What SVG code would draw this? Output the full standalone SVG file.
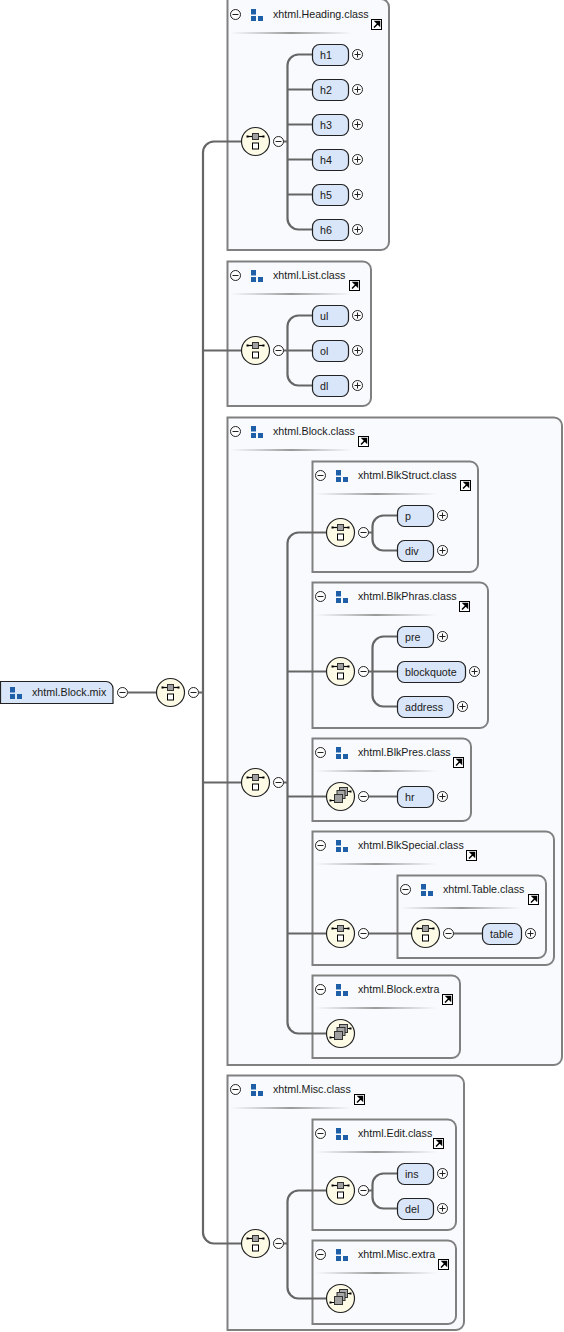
<svg xmlns="http://www.w3.org/2000/svg" width="564" height="1332" viewBox="0 0 564 1332">
<style>
text{font-family:"Liberation Sans",Arial,sans-serif;font-size:10.7px;fill:#1a1a1a}
.box{fill:#f8fafe;stroke:#808080;stroke-width:2}
.el{fill:#d9e5f8;stroke:#222;stroke-width:1.2}
.wire{fill:none;stroke:#666;stroke-width:2.2}
</style>
<defs>
<linearGradient id="fade"><stop offset="0" stop-color="#aaa" stop-opacity="0"/><stop offset=".5" stop-color="#999"/><stop offset="1" stop-color="#aaa" stop-opacity="0"/></linearGradient>
<g id="minus"><circle r="5" fill="#fff" stroke="#222"/><path d="M-3 0H3" stroke="#222"/></g>
<g id="plus"><circle r="5" fill="#fff" stroke="#222"/><path d="M-3 0H3M0 -3V3" stroke="#222"/></g>
<g id="icon"><path d="M0 0h5v5.500h-5zM0 7h5v5h-5zM7 7h5v5h-5z" fill="#1f5fa8"/></g>
<g id="ext"><rect x="-5" y="-5" width="10" height="10" fill="#fff" stroke="#000"/><path d="M-2.500 3L1 -.5M-1 -3H3V1Z" stroke="#000" stroke-width="1.500" fill="#000"/></g>
<g id="seq"><circle r="14" fill="#fdfbe6" stroke="#222" stroke-width="1.200"/><path d="M-8 -5H8" stroke="#000" stroke-width="1.200"/><path d="M-8 -6V-4M8 -6V-4" stroke="#000" stroke-width="2"/><rect x="-3" y="-8" width="6" height="6" fill="#a0a0a0" stroke="#333"/><rect x="-3" y="1.500" width="6" height="6" fill="#fff" stroke="#000"/></g>
<g id="multi"><circle r="14" fill="#fdfbe6" stroke="#222" stroke-width="1.200"/><path d="M-10 4H-5M6 -5H10" stroke="#000" stroke-width="1.200"/><path d="M-10 3V5M10 -6V-4" stroke="#000" stroke-width="2"/><rect x="-1" y="-9" width="8" height="8" fill="#a8a8a8" stroke="#333"/><rect x="-3.500" y="-6" width="8" height="8" fill="#a8a8a8" stroke="#333"/><rect x="-6" y="-2" width="8" height="8" fill="#a0a0a0" stroke="#333"/></g>
<rect id="sep" width="122" height="2" fill="url(#fade)"/>
</defs>

<g id="box-heading"><path class="box" d="M227.500 -1H381a8 8 0 0 1 8 8V242a8 8 0 0 1-8 8H227.500Z"/><use href="#minus" x="235.500" y="14.500"/><use href="#icon" x="251" y="9"/><text x="273" y="18">xhtml.Heading.class</text><use href="#ext" x="376.500" y="24.500"/><use href="#sep" x="230" y="32"/></g>
<g id="box-list"><path class="box" d="M227.500 261.500H363a8 8 0 0 1 8 8V398a8 8 0 0 1-8 8H227.500Z"/><use href="#minus" x="235.500" y="275.500"/><use href="#icon" x="251" y="270"/><text x="273" y="279">xhtml.List.class</text><use href="#ext" x="354.500" y="285.500"/><use href="#sep" x="230" y="293"/></g>
<g id="box-block"><path class="box" d="M227.500 417.500H554a8 8 0 0 1 8 8V1057a8 8 0 0 1-8 8H227.500Z"/><use href="#minus" x="235.500" y="431.500"/><use href="#icon" x="251" y="426"/><text x="273" y="435">xhtml.Block.class</text><use href="#ext" x="363.500" y="441.500"/><use href="#sep" x="230" y="449"/></g>
<g id="box-blkstruct"><path class="box" d="M312.500 461.500H470a8 8 0 0 1 8 8V564a8 8 0 0 1-8 8H312.500Z"/><use href="#minus" x="320.500" y="475.500"/><use href="#icon" x="336" y="470"/><text x="358" y="479">xhtml.BlkStruct.class</text><use href="#ext" x="465.500" y="485.500"/><use href="#sep" x="315" y="493"/></g>
<g id="box-blkphras"><path class="box" d="M312.500 582.500H480a8 8 0 0 1 8 8V720a8 8 0 0 1-8 8H312.500Z"/><use href="#minus" x="320.500" y="596.500"/><use href="#icon" x="336" y="591"/><text x="358" y="600">xhtml.BlkPhras.class</text><use href="#ext" x="464.500" y="606.500"/><use href="#sep" x="315" y="614"/></g>
<g id="box-blkpres"><path class="box" d="M312.500 738.500H463a8 8 0 0 1 8 8V813a8 8 0 0 1-8 8H312.500Z"/><use href="#minus" x="320.500" y="752.500"/><use href="#icon" x="336" y="747"/><text x="358" y="756">xhtml.BlkPres.class</text><use href="#ext" x="458.500" y="762.500"/><use href="#sep" x="315" y="770"/></g>
<g id="box-blkspecial"><path class="box" d="M312.500 831.500H546a8 8 0 0 1 8 8V957a8 8 0 0 1-8 8H312.500Z"/><use href="#minus" x="320.500" y="845.500"/><use href="#icon" x="336" y="840"/><text x="358" y="849">xhtml.BlkSpecial.class</text><use href="#ext" x="471.500" y="855.500"/><use href="#sep" x="315" y="863"/></g>
<g id="box-table"><path class="box" d="M397.500 875.500H538a8 8 0 0 1 8 8V950a8 8 0 0 1-8 8H397.500Z"/><use href="#minus" x="405.500" y="889.500"/><use href="#icon" x="421" y="884"/><text x="443" y="893">xhtml.Table.class</text><use href="#ext" x="533.500" y="899.500"/><use href="#sep" x="400" y="907"/></g>
<g id="box-blockextra"><path class="box" d="M312.500 975.500H452a8 8 0 0 1 8 8V1050a8 8 0 0 1-8 8H312.500Z"/><use href="#minus" x="320.500" y="989.500"/><use href="#icon" x="336" y="984"/><text x="358" y="993">xhtml.Block.extra</text><use href="#ext" x="447.500" y="999.500"/><use href="#sep" x="315" y="1007"/></g>
<g id="box-misc"><path class="box" d="M227.500 1075.500H456a8 8 0 0 1 8 8V1322a8 8 0 0 1-8 8H227.500Z"/><use href="#minus" x="235.500" y="1089.500"/><use href="#icon" x="251" y="1084"/><text x="273" y="1093">xhtml.Misc.class</text><use href="#ext" x="359.500" y="1099.500"/><use href="#sep" x="230" y="1107"/></g>
<g id="box-edit"><path class="box" d="M312.500 1119.500H448a8 8 0 0 1 8 8V1222a8 8 0 0 1-8 8H312.500Z"/><use href="#minus" x="320.500" y="1133.500"/><use href="#icon" x="336" y="1128"/><text x="358" y="1137">xhtml.Edit.class</text><use href="#ext" x="438.500" y="1143.500"/><use href="#sep" x="315" y="1151"/></g>
<g id="box-miscextra"><path class="box" d="M312.500 1240.500H448a8 8 0 0 1 8 8V1316a8 8 0 0 1-8 8H312.500Z"/><use href="#minus" x="320.500" y="1254.500"/><use href="#icon" x="336" y="1249"/><text x="358" y="1258">xhtml.Misc.extra</text><use href="#ext" x="443.500" y="1264.500"/><use href="#sep" x="315" y="1272"/></g>

<g id="connectors">
<path class="wire" d="M128 692.500H156M199 692.500H203M241 141.500H214a11 11 0 0 0-11 11V1232.500a11 11 0 0 0 11 11H241M203 350.500H241M203 782.500H241"/>
<path class="wire" d="M283 141.500H287.500M312 54.500H298.500a11 11 0 0 0-11 11V218.500a11 11 0 0 0 11 11H312M287.500 89.500H312M287.500 124.500H312M287.500 159.500H312M287.500 194.500H312"/>
<path class="wire" d="M283 350.500H287.500M312 315.500H298.500a11 11 0 0 0-11 11V374.500a11 11 0 0 0 11 11H312M287.500 350.500H312"/>
<path class="wire" d="M283 782.500H287.500M326 532.500H298.500a11 11 0 0 0-11 11V1022.500a11 11 0 0 0 11 11H326M287.500 671.500H326M287.500 796.500H326M287.500 933.500H326"/>
<path class="wire" d="M368 532.500H372.500M397 515.500H383.500a11 11 0 0 0-11 11V539.500a11 11 0 0 0 11 11H397"/>
<path class="wire" d="M368 671.500H372.500M397 636.500H383.500a11 11 0 0 0-11 11V695.500a11 11 0 0 0 11 11H397M372.500 671.500H397"/>
<path class="wire" d="M368 796.500H397M368 933.500H411M453 933.500H482"/>
<path class="wire" d="M283 1243.500H287.500M326 1190.500H298.500a11 11 0 0 0-11 11V1287.500a11 11 0 0 0 11 11H326"/>
<path class="wire" d="M368 1190.500H372.500M397 1173.500H383.500a11 11 0 0 0-11 11V1197.500a11 11 0 0 0 11 11H397"/>
</g>

<g id="root"><path class="el" d="M.5 681.500H106a7 7 0 0 1 7 7V703.500H.5Z"/><use href="#icon" x="10" y="687"/><text x="32" y="696">xhtml.Block.mix</text><use href="#minus" x="122.500" y="692.500"/></g>
<g id="seq-root"><use href="#seq" x="170.500" y="692.500"/><use href="#minus" x="193.500" y="692.500"/></g>
<g id="seq-heading"><use href="#seq" x="255.500" y="141.500"/><use href="#minus" x="278.500" y="141.500"/></g>
<g id="seq-list"><use href="#seq" x="255.500" y="350.500"/><use href="#minus" x="278.500" y="350.500"/></g>
<g id="seq-block"><use href="#seq" x="255.500" y="782.500"/><use href="#minus" x="278.500" y="782.500"/></g>
<g id="seq-misc"><use href="#seq" x="255.500" y="1243.500"/><use href="#minus" x="278.500" y="1243.500"/></g>
<g id="seq-blkstruct"><use href="#seq" x="340.500" y="532.500"/><use href="#minus" x="363.500" y="532.500"/></g>
<g id="seq-blkphras"><use href="#seq" x="340.500" y="671.500"/><use href="#minus" x="363.500" y="671.500"/></g>
<g id="multi-blkpres"><use href="#multi" x="340.500" y="796.500"/><use href="#minus" x="363.500" y="796.500"/></g>
<g id="seq-blkspecial"><use href="#seq" x="340.500" y="933.500"/><use href="#minus" x="363.500" y="933.500"/></g>
<g id="seq-table"><use href="#seq" x="425.500" y="933.500"/><use href="#minus" x="448.500" y="933.500"/></g>
<g id="multi-blockextra"><use href="#multi" x="340.500" y="1033.500"/></g>
<g id="seq-edit"><use href="#seq" x="340.500" y="1190.500"/><use href="#minus" x="363.500" y="1190.500"/></g>
<g id="multi-miscextra"><use href="#multi" x="340.500" y="1298.500"/></g>

<g id="h1"><rect class="el" x="312.500" y="44.500" width="36" height="21" rx="7"/><text x="320" y="59">h1</text><use href="#plus" x="357.500" y="54.500"/></g>
<g id="h2"><rect class="el" x="312.500" y="79.500" width="36" height="21" rx="7"/><text x="320" y="94">h2</text><use href="#plus" x="357.500" y="89.500"/></g>
<g id="h3"><rect class="el" x="312.500" y="114.500" width="36" height="21" rx="7"/><text x="320" y="129">h3</text><use href="#plus" x="357.500" y="124.500"/></g>
<g id="h4"><rect class="el" x="312.500" y="149.500" width="36" height="21" rx="7"/><text x="320" y="164">h4</text><use href="#plus" x="357.500" y="159.500"/></g>
<g id="h5"><rect class="el" x="312.500" y="184.500" width="36" height="21" rx="7"/><text x="320" y="199">h5</text><use href="#plus" x="357.500" y="194.500"/></g>
<g id="h6"><rect class="el" x="312.500" y="219.500" width="36" height="21" rx="7"/><text x="320" y="234">h6</text><use href="#plus" x="357.500" y="229.500"/></g>
<g id="ul"><rect class="el" x="312.500" y="305.500" width="36" height="21" rx="7"/><text x="320" y="320">ul</text><use href="#plus" x="357.500" y="315.500"/></g>
<g id="ol"><rect class="el" x="312.500" y="340.500" width="36" height="21" rx="7"/><text x="320" y="355">ol</text><use href="#plus" x="357.500" y="350.500"/></g>
<g id="dl"><rect class="el" x="312.500" y="375.500" width="36" height="21" rx="7"/><text x="320" y="390">dl</text><use href="#plus" x="357.500" y="385.500"/></g>
<g id="p"><rect class="el" x="397.500" y="505.500" width="36" height="21" rx="7"/><text x="405" y="520">p</text><use href="#plus" x="442.500" y="515.500"/></g>
<g id="div"><rect class="el" x="397.500" y="540.500" width="36" height="21" rx="7"/><text x="405" y="555">div</text><use href="#plus" x="442.500" y="550.500"/></g>
<g id="pre"><rect class="el" x="397.500" y="626.500" width="36" height="21" rx="7"/><text x="405" y="641">pre</text><use href="#plus" x="442.500" y="636.500"/></g>
<g id="blockquote"><rect class="el" x="397.500" y="661.500" width="68" height="21" rx="7"/><text x="405" y="676">blockquote</text><use href="#plus" x="474.500" y="671.500"/></g>
<g id="address"><rect class="el" x="397.500" y="696.500" width="56" height="21" rx="7"/><text x="405" y="711">address</text><use href="#plus" x="462.500" y="706.500"/></g>
<g id="hr"><rect class="el" x="397.500" y="786.500" width="36" height="21" rx="7"/><text x="405" y="801">hr</text><use href="#plus" x="442.500" y="796.500"/></g>
<g id="table"><rect class="el" x="482.500" y="923.500" width="39" height="21" rx="7"/><text x="490" y="938">table</text><use href="#plus" x="530.500" y="933.500"/></g>
<g id="ins"><rect class="el" x="397.500" y="1163.500" width="36" height="21" rx="7"/><text x="405" y="1178">ins</text><use href="#plus" x="442.500" y="1173.500"/></g>
<g id="del"><rect class="el" x="397.500" y="1198.500" width="36" height="21" rx="7"/><text x="405" y="1213">del</text><use href="#plus" x="442.500" y="1208.500"/></g>
</svg>
